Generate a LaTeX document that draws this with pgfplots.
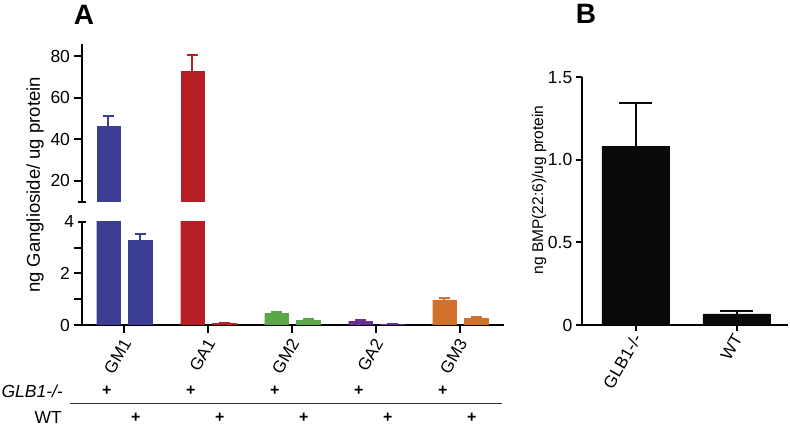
\documentclass[border=0pt]{standalone}
\usepackage{pgfplots}
\pgfplotsset{compat=1.18}
\usepackage{fontspec}
\setmainfont{Liberation Sans}
\definecolor{cblue}{HTML}{3A3D92}
\definecolor{cred}{HTML}{B81F25}
\definecolor{cgreen}{HTML}{5BA646}
\definecolor{cpurple}{HTML}{6A2E8F}
\definecolor{corange}{HTML}{D2712B}
\definecolor{cblack}{HTML}{0A0A0A}
\pgfplotsset{
 myaxis/.style={
   scale only axis, anchor=south west,
   axis line style={line width=2pt, black},
   every tick/.style={line width=2pt, black},
   major tick length=8.5pt,
   tick align=outside,
   tick label style={font=\fontsize{17.5}{18}\selectfont},
   /pgf/number format/assume math mode=true,
   clip marker paths=true,
 },
 mybar/.style n args={3}{ybar, bar width=#2, bar shift=0pt, fill=#1, draw=#1, line width=0.3pt,
   error bars/.cd, y dir=plus, y explicit,
   error bar style={line width=2pt, draw=#1, solid},
   error mark options={rotate=90, line width=2pt, draw=#1, mark size=#3}},
}
\newcommand{\fs}[1]{\fontsize{#1}{#1}\selectfont}
\begin{document}
\begin{tikzpicture}
\path (0pt,0pt) rectangle (790pt,427pt);

% Panel A upper
\begin{axis}[myaxis, at={(82pt,225.3pt)}, width=422pt, height=157.7pt,
  xmin=-0.504, xmax=4.52, ymin=10, ymax=86,
  axis x line=none, axis y line*=left,
  ytick={20,40,60,80}, yticklabels={20,40,60,80},
  extra y ticks={10}, extra y tick labels={},
  extra y tick style={tick align=center}]
\addplot[mybar={cblue}{23.3pt}{5.5pt}] coordinates {(-0.19,46.4) +- (0,4.8)};
\addplot[mybar={cred}{23.3pt}{5.5pt}] coordinates {(0.81,73.1) +- (0,7.4)};
\end{axis}

% Panel A lower
\begin{axis}[myaxis, at={(82pt,102pt)}, width=422pt, height=103.3pt,
  xmin=-0.504, xmax=4.52, ymin=0, ymax=4,
  axis x line*=bottom, axis y line*=left,
  ytick={0,1,2,3}, yticklabels={0,,2,},
  extra y ticks={4}, extra y tick labels={4},
  extra y tick style={tick align=center},
  xtick={0,1,2,3,4}, xticklabels={GM1,GA1,GM2,GA2,GM3},
  xticklabel style={xshift=3pt, yshift=-6pt, rotate=60, anchor=east, inner sep=1pt, font=\fs{17}}]
\addplot[mybar={cblue}{23.3pt}{5.5pt}] coordinates {(-0.19,46.4) (0.19,3.27) +- (0,0.26)};
\addplot[mybar={cred}{23.3pt}{5.5pt}] coordinates {(0.81,73.1) (1.19,0.06) +- (0,0.02)};
\addplot[mybar={cgreen}{23.3pt}{5.5pt}] coordinates {(1.81,0.45) +- (0,0.04) (2.19,0.19) +- (0,0.03)};
\addplot[mybar={cpurple}{23.3pt}{5.5pt}] coordinates {(2.81,0.15) +- (0,0.03) (3.19,0.02) +- (0,0.005)};
\addplot[mybar={corange}{23.3pt}{5.5pt}] coordinates {(3.81,0.97) +- (0,0.08) (4.19,0.27) +- (0,0.03)};
\end{axis}

% Panel B
\begin{axis}[myaxis, at={(582.3pt,102pt)}, width=205.7pt, height=247.7pt,
  xmin=-0.529, xmax=1.508, ymin=0, ymax=1.5,
  axis x line*=bottom, axis y line*=left,
  ytick={0,0.5,1,1.5}, yticklabels={0,0.5,1.0,1.5},
  major tick length=6.5pt,
  xtick={0,1}, xticklabels={GLB1-/-,WT},
  xticklabel style={xshift=2pt, yshift=-3pt, rotate=60, anchor=east, inner sep=1pt, font=\fs{17}}]
\addplot[mybar={cblack}{67.5pt}{16.5pt}] coordinates {(0,1.083) +- (0,0.26) (1,0.067) +- (0,0.018)};
\end{axis}

% labels
\node[font=\bfseries\fs{28}] at (84pt,412pt) {A};
\node[font=\bfseries\fs{28}] at (586pt,413pt) {B};
\node[rotate=90, font=\fs{18.5}] at (35pt,242pt) {ng Ganglioside/ ug protein};
\node[rotate=90, font=\fs{15.5}] at (539pt,237pt) {ng BMP(22:6)/ug protein};

% genotype rows
\node[anchor=east, inner sep=0pt, font=\itshape\fs{17.5}] at (63pt,36pt) {GLB1-/-};
\node[anchor=east, inner sep=0pt, font=\fs{17.5}] at (62pt,9.5pt) {WT};
\draw[line width=1pt, black!80] (70pt,23pt) -- (502pt,23pt);
\foreach \xx in {106.7,190.7,274.7,358.7,442.7} \node[font=\bfseries\fs{16}] at (\xx pt,36pt) {+};
\foreach \xx in {135.7,219.7,303.7,387.7,471.7} \node[font=\bfseries\fs{16}] at (\xx pt,9pt) {+};
\end{tikzpicture}
\end{document}
